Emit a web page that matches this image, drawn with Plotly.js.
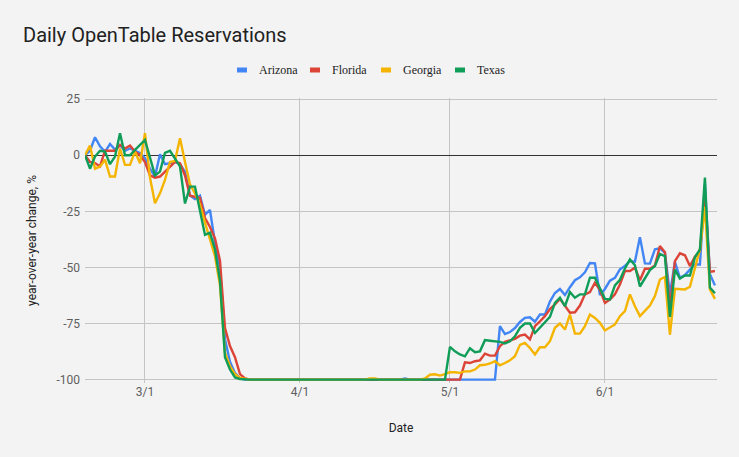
<!DOCTYPE html>
<html>
<head>
<meta charset="utf-8">
<script src="https://cdn.plot.ly/plotly-3.0.1.min.js"></script>
<style>
  body { margin: 0; background: #f3f3f3; }
  #chart { width: 739px; height: 457px; }
</style>
</head>
<body>
<div id="chart"></div>
<script>
// daily values, first day 2020-02-18
const startDate = "2020-02-18";
const seriesNames = ["Arizona", "Florida", "Georgia", "Texas"];
const seriesColors = ["#4285f4", "#db4437", "#f4b400", "#0f9d58"];

const arizona = [
  0, 2, 8, 4, 1.5, 5, 2.5, 4.5, 2, 3, 2, 1, -1.3, -6, -9.5, 0.4, -4, -3.5, -3, -4,
  -7.3, -18, -19.5, -18, -26.5, -24.4, -39, -50, -82, -92, -97, -99.5, -100,
  -100, -100, -100, -100, -100, -100, -100, -100, -100, -100,
  -100, -100, -100, -100, -100, -100, -100, -100, -100, -100,
  -100, -100, -100, -100, -100, -100, -100, -100, -100, -100,
  -100, -99.5, -100, -100, -100, -100, -100, -100, -100, -100,
  -100, -100, -100, -100, -100, -100, -100, -100, -100, -100,
  -76.2, -79.7, -78.8, -77, -74.3, -72.5, -72.2, -74.2, -71, -71,
  -65.2, -61.4, -59.6, -62.3, -58.8, -55.7, -54.4, -52.2, -48, -48.2,
  -62.3, -59.6, -55.9, -54.6, -50.9, -49.3, -47.2, -47.4, -36.5, -48.2,
  -48.3, -41.9, -41.5, -43.5, -62, -47.5, -54.6, -53.4, -51, -48.7,
  -48.7, -13, -53, -58
];

const florida = [
  0, -3, -3.5, -5, 2, 2, 2, 4.6, 3, 4.3, 1.6, 0, -3, -9, -10, -9.5, -7.3, -5, -3, -3.6,
  -9, -18, -18.5, -19, -28, -32, -37, -47, -77, -85, -90, -97.5, -99.5, -100,
  -100, -100, -100, -100, -100, -100, -100, -100, -100, -100,
  -100, -100, -100, -100, -100, -100, -100, -100, -100, -100,
  -100, -100, -100, -100, -100, -100, -100, -100, -100, -100,
  -100, -100, -100, -100, -100, -100, -100, -100, -100, -100,
  -100, -100,
  -92.3, -92.6, -91.8, -91.4, -88.4, -89.3, -89.3, -85.1, -83.2, -82.6,
  -81.8, -80.4, -79.9, -82.1, -76.2, -74, -71.7, -68.5, -66.5, -64,
  -67, -70.2, -70, -67, -62, -61, -56.8, -60, -65.8, -64.3,
  -62, -57.6, -51.6, -51.6, -50.1, -55.7, -50.6, -50.6, -49.1, -40.5,
  -43.2, -68, -47.2, -43.7, -44.6, -49.4, -45.2, -42.7, -18, -52,
  -51.6
];

const georgia = [
  0, 4.3, -6, -5, -2, -9.5, -9.5, 3, -4.3, -4.3, 1.6, -3.6, 9.8, -10, -21.4, -17, -11, -3, -2.5, 7.6,
  -3, -13, -17, -22, -30, -37, -45, -58, -88, -94, -97.5, -99.3, -99.8, -100,
  -100, -100, -100, -100, -100, -100, -100, -100, -100, -100,
  -100, -100, -100, -100, -100, -100, -100, -100, -100, -100,
  -100, -100, -100, -99.5, -99.5, -100, -100, -100, -100, -100,
  -100, -100, -100, -100,
  -99.5, -97.8, -97.6, -98.2, -97.5, -96.7, -96.7, -97, -96.3, -96.3,
  -95.5, -93.6, -93.4, -92.8, -91.8, -93.6, -92.6, -91.4, -89.6, -84.5,
  -83.6, -85.9, -88.8, -85.6, -85.6, -82.9, -76.9, -75, -77.7, -71,
  -79.5, -79.5, -76.2, -71, -72.5, -74.7, -78.1, -76.9, -75.4, -71.7,
  -69.5, -62, -67.3, -71.7, -69.5, -67, -62.8, -55.4, -54.2, -80,
  -59.5, -59.5, -59.8, -58.6, -50.1, -42, -23, -59.8, -64
];

const texas = [
  0, -6, -0.6, 2, 1.6, -4, -0.6, 9.8, 0, 0, 2.4, 4.6, 6.8, -1, -9, -7.3, 1, 2, -1.5, -5,
  -21.5, -14, -14, -24.5, -35.5, -34.5, -42, -56, -90, -95.5, -99, -99.7, -100,
  -100, -100, -100, -100, -100, -100, -100, -100, -100, -100,
  -100, -100, -100, -100, -100, -100, -100, -100, -100, -100,
  -100, -100, -100, -100, -100, -100, -100, -100, -100, -100,
  -100, -100, -100, -100, -100, -100, -100, -100, -100, -100,
  -85.4, -87.4, -88.8, -89.6, -86, -87.8, -87.4, -82.4, -82.7, -82.9,
  -83.2, -83.9, -82.9, -80.7, -76.9, -75, -75, -79.2, -76.9, -74.5,
  -72, -65.8, -63.5, -67.3, -61, -63.5, -62, -62, -54.6, -54.6,
  -59.5, -64, -64.3, -58, -55.5, -50.5, -46.4, -49, -58.5, -54.6,
  -51.2, -49.4, -44, -45, -72, -51, -55, -53.6, -53.6, -45.5,
  -42, -10, -59, -61.5
];

const yTicks = [25, 0, -25, -50, -75, -100];
const yTickText = ["25", "0", "-25", "-50", "-75", "-100"];
const xTicks = ["2020-03-01", "2020-04-01", "2020-05-01", "2020-06-01"];
const xTickText = ["3/1", "4/1", "5/1", "6/1"];

const allSeries = [arizona, florida, georgia, texas];

// date axis
const dates = [];
const d0 = new Date(startDate + "T00:00:00Z");
for (let i = 0; i < arizona.length; i++) {
  const d = new Date(d0.getTime() + i * 86400000);
  dates.push(d.toISOString().slice(0, 10));
}

const traces = allSeries.map(function(vals, i) {
  return {
    x: dates,
    y: vals,
    type: "scatter",
    mode: "lines",
    name: seriesNames[i],
    line: { color: seriesColors[i], width: 2.4 },
    hoverinfo: "skip"
  };
});

// plot box in pixels, for the hand made legend
const L = 85, T = 98, W = 632, H = 285;
const px = function(x) { return (x - L) / W; };
const py = function(y) { return (T + H - y) / H; };

const legendX = [237, 310, 381, 455];
const shapes = [];
const annotations = [];
seriesNames.forEach(function(name, i) {
  shapes.push({
    type: "rect", xref: "paper", yref: "paper",
    x0: px(legendX[i]), x1: px(legendX[i] + 10),
    y0: py(72.5), y1: py(67.5),
    fillcolor: seriesColors[i], line: { width: 0 }
  });
  annotations.push({
    xref: "paper", yref: "paper",
    x: px(legendX[i] + 20), y: py(70),
    xanchor: "left", yanchor: "middle",
    text: name, showarrow: false,
    font: { family: "Liberation Serif", size: 12, color: "#222" }
  });
});

const layout = {
  width: 739,
  height: 457,
  paper_bgcolor: "#f3f3f3",
  plot_bgcolor: "#f3f3f3",
  font: { family: "Roboto", size: 12, color: "#5f5f5f" },
  margin: { l: L, r: 739 - L - W, t: T, b: 457 - T - H },
  showlegend: false,
  title: {
    text: "Daily OpenTable Reservations",
    font: { family: "Roboto", size: 20, color: "#212121" },
    xref: "container", yref: "container",
    x: 23 / 739, xanchor: "left",
    y: 1 - 35 / 457, yanchor: "middle"
  },
  xaxis: {
    type: "date",
    range: ["2020-02-18", "2020-06-23 10:00"],
    tickvals: xTicks,
    ticktext: xTickText,
    showgrid: true,
    gridcolor: "#c4c4c4",
    zeroline: false,
    showline: false,
    ticks: "",
    title: { text: "Date", font: { family: "Roboto", size: 12, color: "#222" }, standoff: 25 }
  },
  yaxis: {
    range: [-101.5, 25.5],
    tickvals: yTicks,
    ticktext: yTickText,
    showgrid: true,
    gridcolor: "#c4c4c4",
    zeroline: true,
    zerolinecolor: "#333",
    zerolinewidth: 1,
    showline: false,
    ticks: "",
    ticklabelstandoff: 4,
    title: { text: "year-over-year change, %", font: { family: "Roboto", size: 12, color: "#222" }, standoff: 17 }
  },
  shapes: shapes,
  annotations: annotations
};

Plotly.newPlot("chart", traces, layout, { displayModeBar: false, staticPlot: true });
</script>
</body>
</html>
